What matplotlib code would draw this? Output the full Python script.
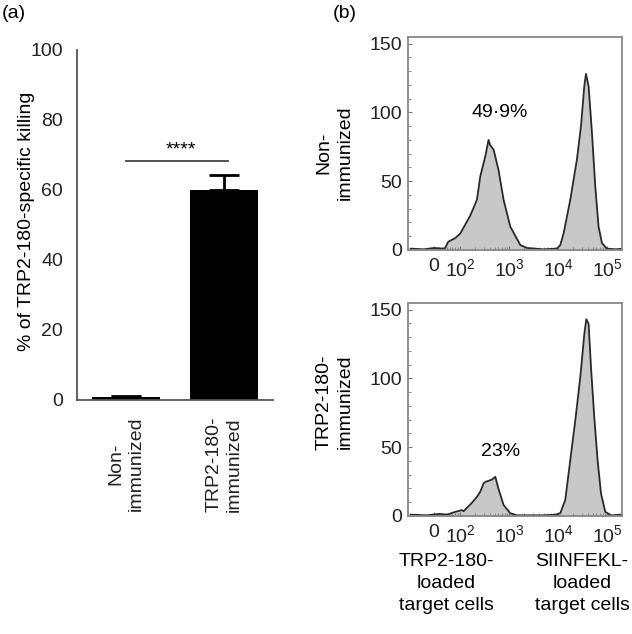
import numpy as np
import matplotlib
matplotlib.use('Agg')
import matplotlib.pyplot as plt
from matplotlib.ticker import FixedLocator, MultipleLocator

plt.rcParams['font.family'] = ['Liberation Sans', 'DejaVu Sans']
plt.rcParams['mathtext.default'] = 'regular'
plt.rcParams['font.size'] = 14

# (a) killing
grupos = ['Non-\nimmunized', 'TRP2-180-\nimmunized']
killing = [0.8, 60.0]
killing_err = [0.4, 4.3]

# (b) histogramas (intensidade, contagem)
top_x = [-90, -40, 0, 35, 42, 54, 81, 100, 137, 160, 219, 256, 324, 378, 410,
         479, 605, 766, 1050, 1680, 2300, 5000, 9420, 11000, 12850, 17600,
         24100, 29100, 34000, 36800, 41600, 48800, 57000, 66500, 78000,
         98600, 150000, 200000]
top_y = [1, 0.5, 1.5, 1, 1.5, 6, 8.7, 12, 20.7, 25, 36.5, 53.5, 68, 80, 76,
         73, 58, 36.5, 17, 3.6, 1.5, 0.5, 1, 3.6, 12, 36.5,
         66, 90, 119, 128, 119, 85, 46, 17, 5,
         1, 0.5, 1]

bot_x = [-90, -30, 20, 49, 81, 108, 117, 173, 219, 256, 299, 324, 410, 445,
         519, 605, 766, 1050, 1440, 5000, 9000, 11000, 13900, 17600, 22300,
         28200, 34000, 37300, 41600, 46600, 54300, 63500, 74500, 91200,
         120000, 200000]
bot_y = [1, 0.5, 1.5, 1, 3, 4.3, 3.5, 9.6, 14, 17.6, 23.7, 24.8, 26, 26.5,
         28.5, 19.5, 8, 2, 0.5, 0.5, 1, 2, 11.6, 40.6, 69.6,
         101, 132, 143, 139.6, 108, 72, 40.6, 16.4, 3,
         0.5, 1]

percent_top = '49·9%'
percent_bot = '23%'
row_labels = ['Non-\nimmunized', 'TRP2-180-\nimmunized']

W, H = 632, 634
fig = plt.figure(figsize=(W / 100, H / 100), dpi=100)


def px_axes(l, t, r, b):
    return fig.add_axes([l / W, 1 - b / H, (r - l) / W, (b - t) / H])


# ---------- painel (a) ----------
ax = px_axes(77, 50, 273, 400)
pos = np.arange(len(grupos))
ax.bar(pos, killing, width=0.7, color='black', zorder=2)
ax.errorbar(pos, killing, yerr=[[0, 0], killing_err], fmt='none',
            ecolor='black', elinewidth=2, capsize=11, capthick=2, zorder=3)
ax.set_xlim(-0.5, 1.5)
ax.set_ylim(0, 100)
ax.set_yticks([0, 20, 40, 60, 80, 100])
ax.set_xticks(pos)
ax.set_xticklabels(grupos, rotation=90, ha='center', va='top',
                   multialignment='center', linespacing=1.25)
ax.tick_params(axis='both', length=0, pad=10, colors='#222222')
ax.tick_params(axis='x', pad=12)
for s in ['top', 'right']:
    ax.spines[s].set_visible(False)
for s in ['left', 'bottom']:
    ax.spines[s].set_color('#555555')
    ax.spines[s].set_linewidth(1.3)
ax.set_ylabel('% of TRP2-180-specific killing')
ax.yaxis.set_label_coords(-0.214, 0.51)

ax.plot([0, 1.04], [68.3, 68.3], color='#444444', lw=1.3)
ax.text(0.56, 69.0, '****', ha='center', va='bottom', fontsize=14)

fig.text(2 / W, 1 - 13 / H, '(a)', ha='left', va='center', fontsize=14)
fig.text(333 / W, 1 - 13 / H, '(b)', ha='left', va='center', fontsize=14)

# ---------- painel (b) ----------
hist_axes = [px_axes(408, 36.7, 622, 250), px_axes(408, 302.7, 622, 516)]
datasets = [(top_x, top_y, percent_top, 100, 0.455),
            (bot_x, bot_y, percent_bot, 47, 0.534)]

for axh, (hx, hy, pct, ty, ly), lab in zip(hist_axes, datasets, row_labels):
    axh.set_xscale('symlog', linthresh=100, linscale=0.48)
    axh.fill_between(hx, hy, 0, color='#c8c8c8', lw=0)
    axh.plot(hx, hy, color='#2a2a2a', lw=1.3)
    axh.set_xlim(-100, 2.0e5)
    axh.set_ylim(0, 155)
    axh.xaxis.set_major_locator(FixedLocator([0, 100, 1000, 10000, 100000]))
    axh.set_xticklabels(['0', '$10^2$', '$10^3$', '$10^4$', '$10^5$'])
    minors = [m * 10 ** e for e in range(1, 5) for m in range(2, 10)]
    axh.xaxis.set_minor_locator(FixedLocator(minors))
    axh.yaxis.set_major_locator(FixedLocator([0, 50, 100, 150]))
    axh.yaxis.set_minor_locator(MultipleLocator(10))
    axh.tick_params(which='major', direction='in', length=3, width=0.8,
                    colors='#777777', labelcolor='#222222')
    axh.tick_params(which='minor', direction='in', length=2, width=0.6,
                    colors='#777777')
    axh.tick_params(axis='y', pad=4)
    axh.tick_params(axis='x', pad=6)
    for s in axh.spines.values():
        s.set_color('#888888')
        s.set_linewidth(1.3)
    axh.text(650, ty, pct, ha='center', va='center', fontsize=14)
    axh.set_ylabel(lab, multialignment='center', linespacing=1.35)
    axh.yaxis.set_label_coords(-0.252, ly)

fig.text(446 / W, 1 - 553 / H, 'TRP2-180-\nloaded\ntarget cells',
         ha='center', va='top', fontsize=14, linespacing=1.4)
fig.text(582 / W, 1 - 553 / H, 'SIINFEKL-\nloaded\ntarget cells',
         ha='center', va='top', fontsize=14, linespacing=1.4)

fig.savefig('out.png', dpi=100)
